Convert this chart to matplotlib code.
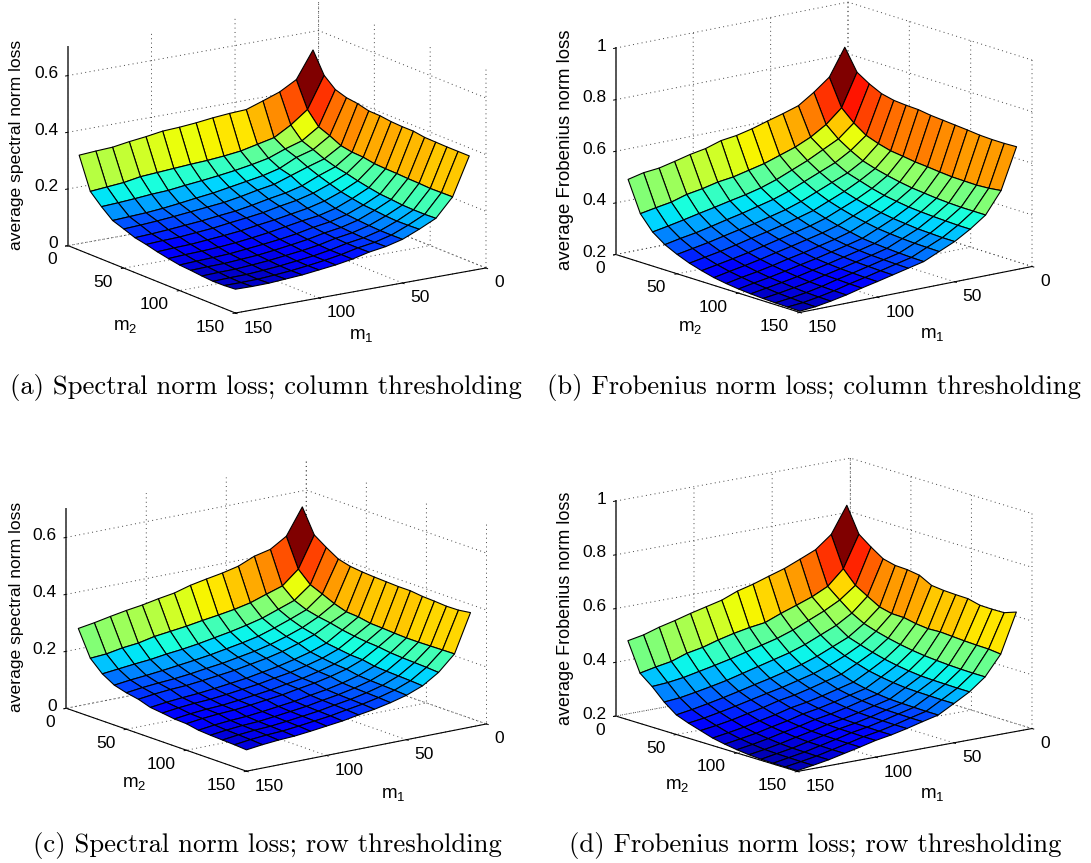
import numpy as np
import matplotlib
matplotlib.use("Agg")
import matplotlib.pyplot as plt
from matplotlib.colors import Normalize
from mpl_toolkits.mplot3d import proj3d

plt.rcParams['font.family'] = ['Liberation Sans', 'DejaVu Sans']
plt.rcParams['mathtext.fontset'] = 'custom'
plt.rcParams['mathtext.rm'] = 'Liberation Sans'
plt.rcParams['axes.unicode_minus'] = False

W, H = 1091, 863
m_values = [10, 20, 30, 40, 50, 60, 70, 80, 90, 100, 110, 120, 130, 140, 150]
m_ticks = [0, 50, 100, 150]

loss_a = [
 [.558,.484,.450,.437,.432,.422,.421,.416,.414,.414,.408,.407,.406,.406,.406],
 [.464,.374,.329,.313,.294,.287,.285,.278,.276,.275,.273,.272,.270,.271,.272],
 [.431,.330,.290,.275,.258,.246,.238,.228,.220,.213,.210,.206,.205,.205,.207],
 [.410,.296,.272,.258,.240,.225,.212,.200,.192,.185,.182,.178,.176,.177,.179],
 [.390,.283,.250,.230,.220,.200,.190,.178,.168,.162,.158,.155,.153,.153,.154],
 [.387,.270,.238,.215,.200,.185,.175,.163,.153,.147,.143,.140,.138,.138,.139],
 [.382,.263,.228,.205,.190,.175,.165,.153,.145,.138,.134,.131,.129,.129,.130],
 [.375,.258,.220,.195,.178,.163,.153,.143,.135,.126,.122,.118,.116,.116,.116],
 [.370,.255,.213,.185,.168,.153,.145,.135,.125,.117,.113,.109,.106,.106,.106],
 [.367,.251,.207,.178,.162,.147,.138,.126,.117,.110,.105,.102,.099,.098,.099],
 [.358,.247,.200,.170,.156,.140,.130,.120,.110,.104,.098,.095,.092,.091,.092],
 [.351,.243,.197,.163,.150,.135,.125,.115,.105,.098,.094,.090,.087,.086,.088],
 [.342,.233,.192,.158,.145,.130,.120,.110,.102,.095,.090,.086,.083,.082,.084],
 [.339,.228,.188,.155,.141,.126,.118,.108,.100,.093,.089,.085,.082,.081,.083],
 [.335,.223,.185,.152,.138,.123,.115,.105,.097,.090,.087,.083,.080,.081,.084],
]
loss_b = [
 [.852,.770,.740,.717,.706,.702,.700,.693,.689,.685,.681,.676,.674,.674,.676],
 [.748,.644,.600,.567,.550,.537,.531,.524,.520,.515,.511,.510,.509,.512,.518],
 [.701,.591,.550,.520,.495,.480,.468,.458,.450,.445,.440,.437,.435,.435,.435],
 [.661,.554,.520,.485,.460,.445,.430,.418,.410,.403,.399,.396,.394,.392,.392],
 [.642,.527,.490,.460,.435,.415,.400,.388,.378,.370,.365,.360,.358,.356,.356],
 [.625,.507,.465,.435,.410,.390,.375,.362,.352,.343,.338,.334,.331,.330,.329],
 [.607,.487,.440,.410,.385,.365,.350,.337,.327,.317,.312,.308,.305,.303,.302],
 [.593,.473,.420,.390,.365,.348,.332,.320,.310,.302,.297,.293,.291,.289,.288],
 [.585,.459,.405,.375,.350,.332,.318,.306,.296,.288,.283,.279,.277,.275,.274],
 [.566,.451,.393,.360,.335,.318,.304,.292,.282,.274,.269,.265,.263,.261,.260],
 [.555,.437,.380,.347,.323,.305,.290,.279,.270,.262,.256,.252,.250,.248,.247],
 [.540,.427,.368,.333,.310,.291,.276,.265,.256,.249,.243,.238,.235,.233,.232],
 [.526,.409,.355,.320,.297,.278,.264,.253,.244,.237,.232,.227,.223,.221,.220],
 [.520,.399,.343,.310,.286,.267,.253,.242,.234,.227,.222,.217,.214,.211,.210],
 [.506,.388,.332,.298,.275,.256,.242,.230,.222,.216,.212,.209,.207,.206,.205],
]
loss_c = [
 [.567,.483,.454,.428,.417,.412,.409,.407,.405,.405,.400,.398,.395,.396,.402],
 [.475,.374,.334,.316,.297,.283,.280,.272,.270,.267,.265,.265,.266,.267,.268],
 [.440,.326,.290,.272,.262,.255,.245,.238,.233,.230,.224,.221,.219,.217,.214],
 [.427,.308,.270,.250,.235,.225,.210,.204,.198,.196,.188,.185,.183,.181,.178],
 [.403,.289,.250,.230,.215,.205,.190,.183,.177,.174,.166,.163,.161,.159,.156],
 [.390,.277,.236,.212,.198,.188,.175,.168,.162,.159,.151,.148,.146,.144,.141],
 [.380,.268,.224,.200,.185,.175,.162,.155,.149,.147,.139,.136,.134,.132,.129],
 [.369,.260,.214,.190,.175,.165,.152,.146,.140,.138,.130,.127,.125,.123,.120],
 [.353,.251,.204,.180,.165,.155,.142,.136,.130,.128,.120,.117,.115,.113,.110],
 [.344,.244,.196,.172,.158,.148,.135,.129,.123,.121,.113,.110,.108,.106,.103],
 [.333,.237,.190,.165,.150,.141,.128,.122,.116,.114,.106,.103,.101,.099,.096],
 [.325,.225,.182,.158,.144,.135,.122,.116,.110,.108,.100,.097,.095,.093,.090],
 [.315,.219,.177,.152,.140,.132,.118,.113,.107,.105,.097,.094,.092,.090,.087],
 [.304,.209,.171,.147,.135,.127,.113,.108,.102,.100,.092,.089,.087,.085,.082],
 [.295,.205,.165,.140,.128,.120,.106,.101,.095,.093,.085,.082,.080,.078,.075],
]
loss_d = [
 [.849,.755,.721,.691,.680,.678,.671,.647,.642,.640,.639,.628,.627,.628,.644],
 [.751,.637,.589,.562,.536,.525,.524,.515,.510,.512,.509,.506,.504,.503,.498],
 [.705,.582,.545,.510,.485,.470,.458,.448,.440,.434,.430,.427,.425,.424,.424],
 [.680,.554,.515,.475,.445,.430,.416,.404,.395,.388,.383,.381,.380,.379,.379],
 [.656,.533,.490,.450,.420,.400,.385,.371,.362,.355,.350,.348,.347,.346,.346],
 [.638,.513,.465,.425,.395,.375,.356,.340,.330,.323,.318,.316,.315,.314,.314],
 [.619,.490,.445,.405,.375,.355,.340,.325,.316,.309,.304,.302,.301,.300,.300],
 [.604,.482,.430,.390,.360,.340,.324,.310,.301,.294,.289,.287,.286,.285,.285],
 [.581,.471,.415,.375,.345,.325,.310,.297,.288,.281,.276,.274,.273,.272,.272],
 [.567,.457,.400,.360,.332,.313,.300,.287,.278,.271,.266,.264,.263,.262,.262],
 [.553,.440,.387,.345,.318,.300,.285,.272,.263,.257,.252,.250,.249,.248,.248],
 [.537,.429,.375,.333,.305,.287,.273,.260,.251,.245,.240,.237,.236,.235,.235],
 [.523,.409,.363,.322,.293,.275,.260,.247,.238,.232,.227,.224,.223,.222,.222],
 [.505,.399,.355,.312,.282,.264,.250,.237,.228,.221,.216,.214,.213,.212,.212],
 [.494,.387,.351,.307,.273,.256,.242,.228,.219,.212,.207,.204,.203,.203,.203],
]

zticks_spectral = [0, 0.2, 0.4, 0.6]
zticks_frobenius = [0.2, 0.4, 0.6, 0.8, 1]
ztick_labels_spectral = ['0', '0.2', '0.4', '0.6']
ztick_labels_frobenius = ['0.2', '0.4', '0.6', '0.8', '1']
zlim_spectral = (0, 0.7)
zlim_frobenius = (0.2, 1)
ylabel_spectral = 'average spectral norm loss'
ylabel_frobenius = 'average Frobenius norm loss'
captions = ['(a) Spectral norm loss; column thresholding',
            '(b) Frobenius norm loss; column thresholding',
            '(c) Spectral norm loss; row thresholding',
            '(d) Frobenius norm loss; row thresholding']

# layout: all in image pixels (y down)
panels = [
 dict(Z=loss_a, ticks=zticks_spectral, labels=ztick_labels_spectral, zlim=zlim_spectral, zlabel=ylabel_spectral,
      az=56.25, el=15.6, aspect=(301.4, 301.4, 206), fs=12.6, vmin=0.05,
      left=(68.0, 245.0), right=(486.0, 268.3), bottom=(235.4, 313.3),
      zl=(17, 145), m2=(125, 326), m1=(361, 336), cap=(266, 387), caption=captions[0]),
 dict(Z=loss_b, ticks=zticks_frobenius, labels=ztick_labels_frobenius, zlim=zlim_frobenius, zlabel=ylabel_frobenius,
      az=51.6, el=14.45, aspect=(296, 296, 213), fs=13.4, vmin=0.17,
      left=(615.8, 254.0), right=(1032.0, 266.7), bottom=(799.9, 312.7),
      zl=(565, 150), m2=(690, 328), m1=(932, 334), cap=(814, 387), caption=captions[1]),
 dict(Z=loss_c, ticks=zticks_spectral, labels=ztick_labels_spectral, zlim=zlim_spectral, zlabel=ylabel_spectral,
      az=53.1, el=15.2, aspect=(300, 300, 206.5), fs=12.6, vmin=0.04,
      left=(66.3, 706.7), right=(486.5, 725.0), bottom=(246.5, 771.7),
      zl=(17, 607), m2=(134, 783), m1=(393, 794), cap=(267, 845), caption=captions[2]),
 dict(Z=loss_d, ticks=zticks_frobenius, labels=ztick_labels_frobenius, zlim=zlim_frobenius, zlabel=ylabel_frobenius,
      az=52.25, el=13.66, aspect=(296.7, 296.7, 221.3), fs=13.0, vmin=0.18,
      left=(615.8, 716.0), right=(1032.0, 728.3), bottom=(797.4, 771.7),
      zl=(565, 608), m2=(677, 785), m1=(932, 794), cap=(815, 845), caption=captions[3]),
]

fig = plt.figure(figsize=(W / 100, H / 100), dpi=100)
jet = plt.get_cmap('jet', 64)


def project(ax, x, y, z):
    xs, ys, _ = proj3d.proj_transform(x, y, z, ax.get_proj())
    px, py = ax.transData.transform((xs, ys))
    return px, H - py


def fig_text(x, y, s, **kw):
    fig.text(x / W, 1 - y / H, s, **kw)


for p in panels:
    ax = fig.add_axes([0.1, 0.1, 500 / W, 500 / H], projection='3d')
    ax.set_proj_type('ortho')
    ax.view_init(elev=p['el'], azim=p['az'])
    ax.set_box_aspect(p['aspect'])
    ax.patch.set_alpha(0)

    Z = np.array(p['Z'])
    X, Y = np.meshgrid(m_values, m_values, indexing='ij')
    colors = jet(Normalize(p['vmin'], Z.max())(Z))
    ax.plot_surface(X, Y, Z, facecolors=colors, rstride=1, cstride=1, shade=False,
                    edgecolor='black', linewidth=0.8, antialiased=True)

    ax.set_xlim(0, 150)
    ax.set_ylim(0, 150)
    ax.set_zlim(*p['zlim'])
    ax.set_xticks(m_ticks)
    ax.set_yticks(m_ticks)
    ax.set_zticks(p['ticks'])
    ax.set_xticklabels([])
    ax.set_yticklabels([])
    ax.set_zticklabels([])
    ax.zaxis.set_ticks_position('lower')

    for axis in (ax.xaxis, ax.yaxis, ax.zaxis):
        axis.pane.set_facecolor((1, 1, 1, 0))
        axis.pane.set_edgecolor((1, 1, 1, 0))
        axis._axinfo['grid'].update(color='#444444', linestyle=(0, (1, 3.5)), linewidth=0.7)
        axis._axinfo['tick'].update(inward_factor=0.12, outward_factor=0.0, linewidth={True: 0.7, False: 0.7})
        axis.line.set_color('black')
        axis.line.set_linewidth(0.8)
    ax.zaxis.line.set_color('#555555')
    ax.zaxis.line.set_linewidth(1.4)

    # fit the drawn box onto its place in the figure
    fig.canvas.draw()
    z0 = p['zlim'][0]
    L = np.array(project(ax, 150, 0, z0))
    R = np.array(project(ax, 0, 150, z0))
    k = (p['right'][0] - p['left'][0]) / (R[0] - L[0])
    side = 500 * k
    ax.set_position([0.1, 0.1, side / W, side / H])
    fig.canvas.draw()
    L = np.array(project(ax, 150, 0, z0))
    R = np.array(project(ax, 0, 150, z0))
    B = np.array(project(ax, 150, 150, z0))
    cur = (L + R + B) / 3
    tgt = (np.array(p['left']) + np.array(p['right']) + np.array(p['bottom'])) / 3
    dx, dy = tgt - cur
    ax.set_position([0.1 + dx / W, 0.1 - dy / H, side / W, side / H])
    fig.canvas.draw()

    # tick labels beside the projected ticks
    tick_fs = 12.5
    for t in m_ticks:
        px, py = project(ax, 150, t, z0)
        fig_text(px - 11, py + 14, str(t), ha='right', va='center', fontsize=tick_fs)
        px, py = project(ax, t, 150, z0)
        fig_text(px + 8, py + 15, str(t), ha='left', va='center', fontsize=tick_fs)
    for t, s in zip(p['ticks'], p['labels']):
        px, py = project(ax, 150, 0, t)
        fig_text(px - 9.5, py - 2, s, ha='right', va='center', fontsize=tick_fs)

    fig_text(*p['zl'], p['zlabel'], rotation=90, ha='center', va='center', fontsize=p['fs'])
    fig_text(*p['m2'], r'$\mathrm{m_2}$', ha='center', va='center', fontsize=13.5)
    fig_text(*p['m1'], r'$\mathrm{m_1}$', ha='center', va='center', fontsize=13.5)
    fig_text(*p['cap'], p['caption'], ha='center', va='center', fontsize=19.2, family='cmr10')

fig.savefig('out.png', dpi=100)
